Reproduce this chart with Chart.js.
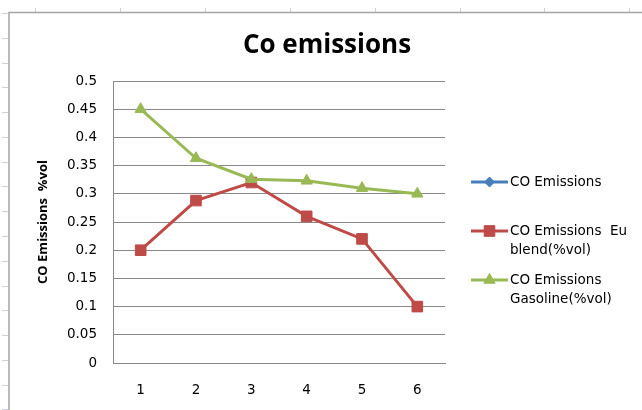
<!DOCTYPE html>
<html>
<head>
<meta charset="utf-8">
<title>Co emissions</title>
<script src="https://cdn.jsdelivr.net/npm/chart.js@4.4.1/dist/chart.umd.min.js"></script>
<style>
  html, body { margin: 0; padding: 0; background: #fff; }
  #wrap { position: relative; width: 642px; height: 410px; }
</style>
</head>
<body>
<div id="wrap"><canvas id="co-chart"></canvas></div>
<script>
const chartTitle = 'Co emissions';
const yAxisTitle = 'CO Emissions  %vol';
const runs = ['1', '2', '3', '4', '5', '6'];
const yTickLabels = ['0', '0.05', '0.1', '0.15', '0.2', '0.25', '0.3', '0.35', '0.4', '0.45', '0.5'];

// CO emissions per run (first series has no values)
const coEmissions = [null, null, null, null, null, null];
const euBlend = [0.2, 0.288, 0.32, 0.26, 0.22, 0.1];
const gasoline = [0.45, 0.363, 0.326, 0.323, 0.31, 0.3];

// legend text, one entry per line
const seriesLabels = [
  ['CO Emissions'],
  ['CO Emissions  Eu', 'blend(%vol)'],
  ['CO Emissions', 'Gasoline(%vol)']
];

const tickFont = { family: 'DejaVu Sans', size: 13.5 };
const gridColor = '#898989';

// sheet background: row/column marks and the chart frame
const sheetBackground = {
  id: 'sheetBackground',
  beforeDraw(chart) {
    const ctx = chart.ctx;
    ctx.save();
    ctx.fillStyle = '#fff';
    ctx.fillRect(0, 0, chart.width, chart.height);
    ctx.strokeStyle = '#cdd2e2';
    ctx.lineWidth = 1;
    ctx.beginPath();
    for (let x = 35; x < chart.width; x += 84.9) {
      ctx.moveTo(Math.round(x) + 0.5, 8);
      ctx.lineTo(Math.round(x) + 0.5, 12);
    }
    for (let y = 13; y < chart.height; y += 24.78) {
      ctx.moveTo(2, Math.round(y) + 0.5);
      ctx.lineTo(8, Math.round(y) + 0.5);
    }
    ctx.stroke();
    ctx.strokeStyle = '#a4a4a4';
    ctx.lineWidth = 1.5;
    ctx.beginPath();
    ctx.moveTo(9, chart.height + 2);
    ctx.lineTo(9, 12.5);
    ctx.lineTo(chart.width + 2, 12.5);
    ctx.stroke();
    ctx.restore();
  }
};

// chart title and the legend on the right
const titleAndLegend = {
  id: 'titleAndLegend',
  afterDraw(chart) {
    const ctx = chart.ctx;
    ctx.save();
    ctx.fillStyle = '#000';
    ctx.font = 'bold 26px "Open Sans"';
    ctx.textAlign = 'center';
    ctx.textBaseline = 'alphabetic';
    ctx.fillText(chartTitle, 327, 53);

    const lineX0 = 471, lineX1 = 508, textX = 510;
    let y = 182;
    chart.data.datasets.forEach((ds, i) => {
      ctx.strokeStyle = ds.borderColor;
      ctx.lineWidth = 3;
      ctx.beginPath();
      ctx.moveTo(lineX0, y);
      ctx.lineTo(lineX1, y);
      ctx.stroke();
      ctx.fillStyle = ds.backgroundColor;
      ctx.strokeStyle = ds.borderColor;
      ctx.lineWidth = ds.pointBorderWidth;
      Chart.helpers.drawPoint(ctx, {
        pointStyle: ds.pointStyle,
        radius: ds.pointRadius,
        rotation: 0,
        borderWidth: ds.pointBorderWidth
      }, (lineX0 + lineX1) / 2, y);

      ctx.fillStyle = '#000';
      ctx.font = '13.5px "DejaVu Sans"';
      ctx.textAlign = 'left';
      ctx.textBaseline = 'middle';
      seriesLabels[i].forEach((line, k) => ctx.fillText(line, textX, y + k * 19));
      y += 49;
    });
    ctx.restore();
  }
};

const ctx = document.getElementById('co-chart').getContext('2d');
const coChart = new Chart(ctx, {
  type: 'line',
  data: {
    labels: runs,
    datasets: [
      {
        label: seriesLabels[0].join(' '),
        data: coEmissions,
        borderColor: '#4A7EBB',
        backgroundColor: '#4A7EBB',
        borderWidth: 3,
        pointStyle: 'rectRot',
        pointRadius: 5,
        pointBorderWidth: 1,
        order: 3
      },
      {
        label: seriesLabels[1].join(' '),
        data: euBlend,
        borderColor: '#BE4B48',
        backgroundColor: '#BE4B48',
        borderWidth: 3,
        pointStyle: 'rect',
        pointRadius: 7.5,
        pointBorderWidth: 1,
        order: 2
      },
      {
        label: seriesLabels[2].join(' '),
        data: gasoline,
        borderColor: '#98B954',
        backgroundColor: '#98B954',
        borderWidth: 3,
        pointStyle: 'triangle',
        pointRadius: 6.5,
        pointBorderWidth: 1,
        order: 1
      }
    ]
  },
  options: {
    responsive: true,
    maintainAspectRatio: false,
    animation: false,
    layout: { padding: { left: 0, top: 81, right: 197, bottom: 0 } },
    elements: { line: { tension: 0 } },
    plugins: {
      legend: { display: false },
      tooltip: { enabled: false }
    },
    scales: {
      x: {
        type: 'category',
        offset: true,
        grid: { display: false, drawTicks: false },
        border: { display: true, color: gridColor, width: 1 },
        ticks: { font: tickFont, color: '#000', padding: 19, maxRotation: 0 },
        afterFit: (scale) => { scale.height = 47; }
      },
      y: {
        min: 0,
        max: 0.5,
        grid: { color: gridColor, lineWidth: 1, drawTicks: false },
        border: { display: true, color: gridColor, width: 1 },
        ticks: {
          stepSize: 0.05,
          font: tickFont,
          color: '#000',
          padding: 16,
          callback: (value, index) => yTickLabels[index]
        },
        title: {
          display: true,
          text: yAxisTitle,
          color: '#000',
          font: { family: 'Open Sans', size: 13, weight: 'bold' },
          padding: { top: 35, bottom: 0 }
        },
        afterFit: (scale) => { scale.width = 113; }
      }
    }
  },
  plugins: [sheetBackground, titleAndLegend]
});
</script>
</body>
</html>
